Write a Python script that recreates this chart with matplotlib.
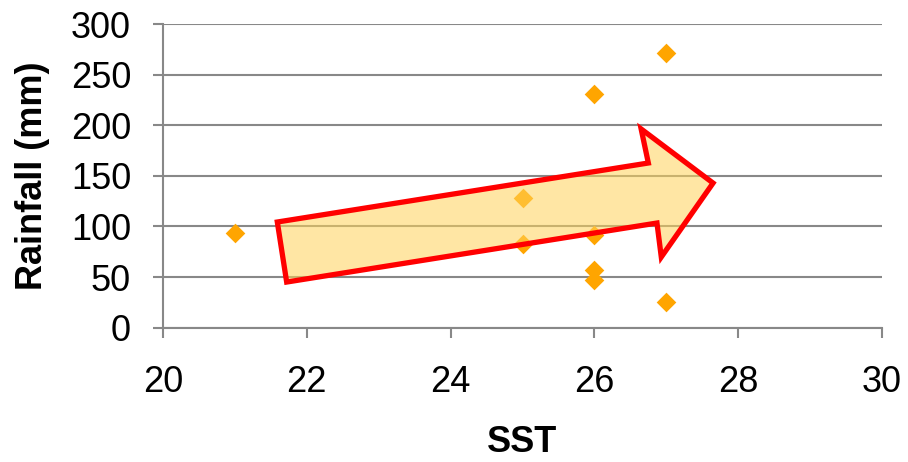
import matplotlib.pyplot as plt
from matplotlib.patches import Polygon

# data
sst = [21, 25, 25, 26, 26, 26, 26, 27, 27]
rainfall = [94, 128, 83, 231, 92, 57, 47, 271, 25]

x_ticks = [20, 22, 24, 26, 28, 30]
y_ticks = [0, 50, 100, 150, 200, 250, 300]

# trend arrow outline (data coordinates)
arrow_x = [21.59, 26.75, 26.65, 27.65, 26.93, 26.87, 21.72]
arrow_y = [104.4, 162.7, 196.3, 142.9, 69.8, 103.4, 45.1]

plt.rcParams['font.family'] = ['Liberation Sans', 'DejaVu Sans']

fig = plt.figure(figsize=(9.08, 4.62), dpi=100)
ax = fig.add_axes([0.1795, 0.2907, 0.7919, 0.6573])

ax.scatter(sst, rainfall, marker='D', s=10 ** 2, color='#FFA500', linewidths=0, zorder=3)

arrow = Polygon(list(zip(arrow_x, arrow_y)), closed=True, facecolor='#FFD35A', alpha=0.55,
                edgecolor='none', zorder=4)
ax.add_patch(arrow)
outline = Polygon(list(zip(arrow_x, arrow_y)), closed=True, fill=False, edgecolor='#FF0000',
                  linewidth=3.8, joinstyle='miter', zorder=5)
ax.add_patch(outline)

ax.set_xlim(20, 30)
ax.set_ylim(0, 300)
ax.set_xticks(x_ticks)
ax.set_yticks(y_ticks)

ax.yaxis.grid(True, color='#888888', linewidth=1.5)
ax.set_axisbelow(True)
for side in ['top', 'right']:
    ax.spines[side].set_visible(False)
for side in ['left', 'bottom']:
    ax.spines[side].set_color('#888888')
    ax.spines[side].set_linewidth(1.5)

ax.tick_params(axis='both', colors='#888888', length=7, width=1.5, labelsize=26, labelcolor='black')
ax.tick_params(axis='y', pad=16)
ax.tick_params(axis='x', pad=20)

ax.set_xlabel('SST', fontsize=26, fontweight='bold', labelpad=18)
ax.set_ylabel('Rainfall (mm)', fontsize=26, fontweight='bold', labelpad=15)

plt.savefig('out.png')
